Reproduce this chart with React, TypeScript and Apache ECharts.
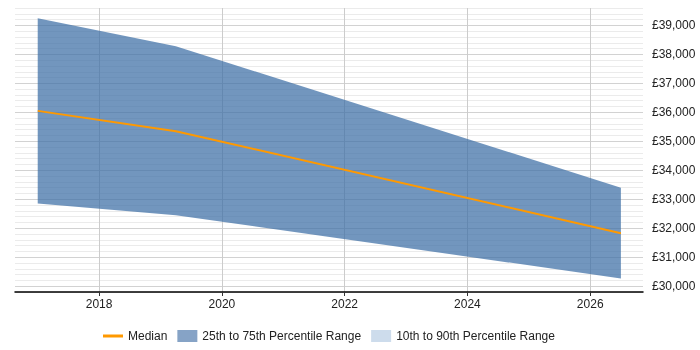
import React, { useEffect, useRef } from "react";
import * as echarts from "echarts";

const years = [2017, 2019.25, 2026.5];
const p25 = [32850, 32450, 30270];
const median = [36050, 35350, 31830];
const p75 = [39250, 38280, 33400];
const xTicks = [2018, 2020, 2022, 2024, 2026];
const yMajor = [30000, 31000, 32000, 33000, 34000, 35000, 36000, 37000, 38000, 39000];

const FONT = "'Liberation Sans', Arial, sans-serif";

export default function App() {
  const ref = useRef<HTMLDivElement>(null);
  useEffect(() => {
    if (!ref.current) return;
    const chart = echarts.init(ref.current, undefined, { renderer: "svg" });
    const bandData = years.map((y, i) => [y, p25[i], p75[i]]);
    const med = years.map((y, i) => [y, median[i]]);
    const yMin = 29800;
    const yMax = 39600;
    chart.setOption({
      animation: false,
      textStyle: { fontFamily: FONT },
      grid: { left: 15, right: 57, top: 8, bottom: 58, containLabel: false },
      legend: {
        bottom: 3,
        left: 98,
        itemWidth: 20,
        itemHeight: 12,
        itemGap: 10,
        symbolKeepAspect: true,
        textStyle: { fontFamily: FONT, fontSize: 12, color: "#222" },
        data: [
          { name: "Median", icon: "path://M0,0 L20,0 L20,3 L0,3 Z", itemStyle: { color: "#ff9900" } },
          { name: "25th to 75th Percentile Range", icon: "rect", itemStyle: { color: "#86a3c6" } },
          { name: "10th to 90th Percentile Range", icon: "rect", itemStyle: { color: "#cddcec" } },
        ],
      },
      xAxis: {
        type: "value",
        min: 2016.63,
        max: 2026.86,
        axisLine: { show: true, onZero: false, lineStyle: { color: "#000", width: 1.5 } },
        axisTick: { show: true, length: 4, lineStyle: { color: "#333" }, customValues: xTicks },
        axisLabel: {
          customValues: xTicks,
          color: "#222",
          fontSize: 12,
          fontFamily: FONT,
          margin: 6,
          formatter: (v: number) => String(v),
        },
        splitLine: { show: true, lineStyle: { color: "#cccccc", width: 1 } },
      },
      yAxis: [
        {
          type: "value",
          position: "right",
          min: yMin,
          max: yMax,
          interval: 200,
          axisLine: { show: false },
          axisTick: { show: false },
          axisLabel: { show: false },
          splitLine: { show: true, lineStyle: { color: "#ebebeb", width: 1 } },
        },
        {
          type: "value",
          position: "right",
          min: yMin,
          max: yMax,
          axisLine: { show: false },
          axisTick: { show: false, customValues: yMajor },
          axisLabel: {
            customValues: yMajor,
            color: "#222",
            fontSize: 12,
            fontFamily: FONT,
            margin: 9,
            formatter: (v: number) => "£" + v.toLocaleString("en-GB"),
          },
          splitLine: { show: true, lineStyle: { color: "#d2d2d2", width: 1 } },
        },
      ],
      series: [
        {
          name: "25th to 75th Percentile Range",
          type: "custom",
          data: bandData,
          encode: { x: 0, y: [1, 2] },
          itemStyle: { color: "#86a3c6" },
          z: 3,
          renderItem: (params: any, api: any) => {
            if (params.dataIndex !== 0) return null;
            const upper = bandData.map((d) => api.coord([d[0], d[2]]));
            const lower = bandData.map((d) => api.coord([d[0], d[1]])).reverse();
            return {
              type: "polygon",
              shape: { points: upper.concat(lower) },
              style: { fill: "rgba(60,110,165,0.72)", stroke: "none" },
            };
          },
        },
        {
          name: "10th to 90th Percentile Range",
          type: "line",
          data: [],
          symbol: "none",
          itemStyle: { color: "#cddcec" },
        },
        {
          name: "Median",
          type: "line",
          data: med,
          symbol: "none",
          itemStyle: { color: "#ff9900" },
          lineStyle: { color: "#ff9900", width: 2 },
          z: 5,
        },
      ],
    });
    return () => chart.dispose();
  }, []);
  return (
    <div
      ref={ref}
      style={{ position: "fixed", left: 0, top: 0, width: 700, height: 350 }}
    />
  );
}
